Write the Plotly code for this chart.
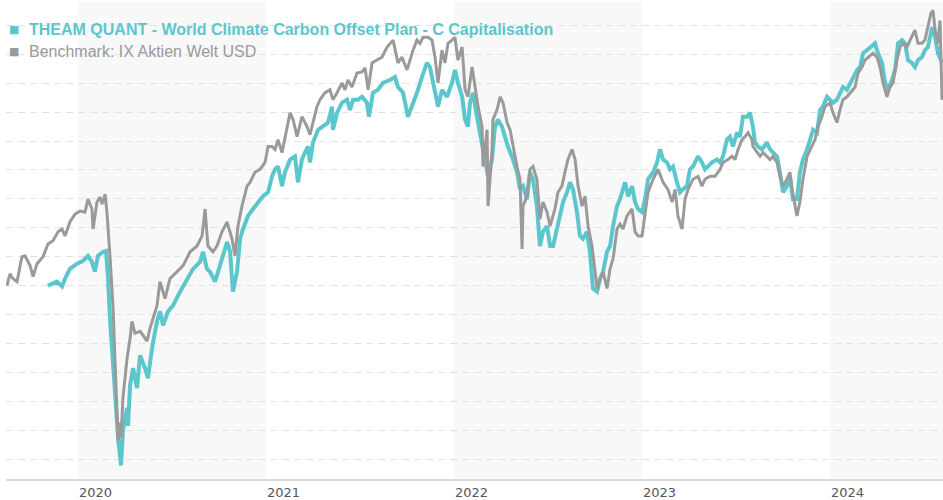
import plotly.graph_objects as go

# Time in decimal years, values rebased (arbitrary index units, no y labels shown)
bench_t = [2019.622, 2019.638, 2019.654, 2019.676, 2019.692, 2019.702, 2019.718, 2019.745, 2019.761, 2019.782,
           2019.814, 2019.840, 2019.867, 2019.894, 2019.915, 2019.931, 2019.957, 2019.984, 2020.011, 2020.037,
           2020.053, 2020.074, 2020.080, 2020.101, 2020.117, 2020.128, 2020.144, 2020.154, 2020.170, 2020.186,
           2020.197, 2020.207, 2020.213, 2020.223, 2020.229, 2020.239, 2020.250, 2020.261, 2020.277, 2020.287,
           2020.303, 2020.330, 2020.346, 2020.367, 2020.383, 2020.399, 2020.420, 2020.436, 2020.463, 2020.489,
           2020.527, 2020.559, 2020.596, 2020.633, 2020.660, 2020.676, 2020.691, 2020.718, 2020.739, 2020.766,
           2020.793, 2020.819, 2020.835, 2020.851, 2020.872, 2020.899, 2020.915, 2020.941, 2020.968, 2020.995,
           2021.011, 2021.032, 2021.048, 2021.064, 2021.085, 2021.112, 2021.128, 2021.144, 2021.165, 2021.191,
           2021.218, 2021.234, 2021.250, 2021.271, 2021.287, 2021.314, 2021.340, 2021.356, 2021.378, 2021.404,
           2021.420, 2021.436, 2021.457, 2021.484, 2021.511, 2021.527, 2021.543, 2021.564, 2021.590, 2021.617,
           2021.644, 2021.660, 2021.676, 2021.691, 2021.702, 2021.723, 2021.750, 2021.766, 2021.782, 2021.803,
           2021.819, 2021.835, 2021.862, 2021.883, 2021.899, 2021.915, 2021.936, 2021.952, 2021.968, 2021.989,
           2022.005, 2022.021, 2022.043, 2022.059, 2022.074, 2022.096, 2022.112, 2022.128, 2022.149, 2022.154,
           2022.176, 2022.181, 2022.202, 2022.207, 2022.229, 2022.245, 2022.261, 2022.282, 2022.298, 2022.314,
           2022.335, 2022.351, 2022.362, 2022.367, 2022.388, 2022.404, 2022.420, 2022.441, 2022.457, 2022.473,
           2022.495, 2022.511, 2022.537, 2022.553, 2022.574, 2022.590, 2022.606, 2022.628, 2022.644, 2022.660,
           2022.681, 2022.697, 2022.713, 2022.734, 2022.750, 2022.761, 2022.777, 2022.793, 2022.814, 2022.830,
           2022.846, 2022.867, 2022.883, 2022.899, 2022.920, 2022.947, 2022.963, 2022.979, 2023.000, 2023.016,
           2023.032, 2023.059, 2023.085, 2023.112, 2023.138, 2023.160, 2023.176, 2023.191, 2023.213, 2023.229,
           2023.245, 2023.271, 2023.298, 2023.319, 2023.335, 2023.362, 2023.388, 2023.415, 2023.431, 2023.457,
           2023.479, 2023.495, 2023.511, 2023.532, 2023.548, 2023.564, 2023.585, 2023.590, 2023.612, 2023.628,
           2023.644, 2023.665, 2023.681, 2023.697, 2023.718, 2023.734, 2023.750, 2023.771, 2023.787, 2023.798,
           2023.814, 2023.824, 2023.840, 2023.856, 2023.878, 2023.894, 2023.920, 2023.936, 2023.957, 2023.973,
           2024.000, 2024.016, 2024.037, 2024.053, 2024.069, 2024.090, 2024.106, 2024.133, 2024.149, 2024.170,
           2024.186, 2024.202, 2024.229, 2024.250, 2024.266, 2024.282, 2024.303, 2024.319, 2024.335, 2024.356,
           2024.372, 2024.388, 2024.410, 2024.426, 2024.452, 2024.468, 2024.489, 2024.505, 2024.521, 2024.537,
           2024.548, 2024.559, 2024.574, 2024.585, 2024.596]
bench_v = [100.0, 104.1, 102.4, 101.4, 106.9, 110.0, 110.3, 106.9, 103.1, 107.6,
           110.0, 114.4, 115.5, 118.6, 119.6, 117.2, 122.0, 124.7, 125.8, 125.4,
           129.9, 126.5, 119.6, 128.9, 130.6, 128.2, 131.6, 125.4, 110.3, 93.1,
           73.9, 56.7, 46.4, 52.6, 47.4, 61.2, 68.0, 74.9, 81.8, 87.6,
           83.5, 84.2, 82.8, 80.8, 85.2, 88.7, 93.1, 101.4, 95.5, 102.4,
           104.8, 106.9, 111.7, 113.7, 117.2, 126.5, 113.7, 111.7, 113.7, 118.6,
           122.0, 116.2, 110.3, 120.6, 127.5, 134.4, 135.7, 139.2, 140.2, 142.6,
           148.1, 148.1, 147.1, 150.5, 146.0, 155.0, 159.8, 157.4, 151.5, 158.4,
           155.0, 152.2, 156.4, 161.9, 164.3, 166.7, 167.7, 164.3, 166.7, 170.1,
           167.7, 171.1, 168.7, 173.5, 173.9, 175.3, 167.7, 177.0, 178.0, 179.0,
           182.5, 183.8, 184.9, 180.4, 177.0, 179.0, 174.6, 178.0, 181.4, 184.9,
           183.8, 185.9, 185.9, 184.9, 179.0, 170.1, 181.4, 177.0, 183.8, 184.9,
           185.9, 178.0, 182.5, 167.7, 165.3, 175.6, 168.7, 161.9, 155.0, 141.2,
           153.9, 127.5, 146.0, 157.4, 160.8, 165.3, 163.2, 156.4, 153.9, 148.1,
           141.2, 136.8, 112.7, 127.5, 130.9, 140.2, 141.2, 136.8, 123.0, 128.9,
           125.4, 120.6, 126.5, 132.3, 134.4, 139.2, 143.6, 147.1, 143.6, 134.4,
           127.5, 130.9, 120.6, 113.7, 105.8, 99.0, 102.4, 104.8, 99.0, 105.8,
           109.3, 119.6, 121.3, 119.6, 124.1, 126.5, 118.6, 117.2, 117.2, 124.1,
           132.3, 136.8, 140.2, 135.7, 133.3, 128.9, 133.3, 124.1, 119.6, 129.9,
           133.3, 136.8, 137.8, 134.4, 136.8, 137.8, 137.8, 140.2, 142.6, 143.6,
           144.7, 143.6, 147.1, 150.5, 151.5, 152.9, 150.5, 148.1, 146.0, 144.7,
           146.0, 144.7, 143.6, 144.7, 142.6, 137.8, 134.4, 136.8, 139.2, 133.3,
           127.5, 124.1, 128.9, 136.8, 144.7, 147.1, 150.5, 155.0, 158.4, 161.9,
           163.2, 159.8, 156.4, 160.8, 164.3, 165.3, 166.7, 168.7, 173.5, 175.6,
           178.0, 179.0, 180.4, 179.0, 175.6, 170.1, 165.3, 168.7, 170.1, 178.0,
           182.5, 183.8, 182.5, 184.9, 188.3, 183.8, 183.8, 184.9, 189.3, 194.2,
           195.2, 188.3, 183.8, 191.7, 164.3]

fund_t = [2019.840, 2019.888, 2019.915, 2019.931, 2019.957, 2019.995, 2020.027, 2020.053, 2020.074, 2020.090,
          2020.106, 2020.133, 2020.149, 2020.160, 2020.170, 2020.186, 2020.197, 2020.213, 2020.229, 2020.239,
          2020.261, 2020.266, 2020.277, 2020.293, 2020.314, 2020.330, 2020.356, 2020.372, 2020.394, 2020.410,
          2020.420, 2020.436, 2020.452, 2020.479, 2020.505, 2020.543, 2020.580, 2020.612, 2020.649, 2020.665,
          2020.686, 2020.702, 2020.729, 2020.745, 2020.766, 2020.793, 2020.809, 2020.824, 2020.846, 2020.862,
          2020.878, 2020.904, 2020.931, 2020.957, 2020.984, 2021.011, 2021.032, 2021.048, 2021.064, 2021.085,
          2021.101, 2021.128, 2021.154, 2021.170, 2021.191, 2021.207, 2021.223, 2021.234, 2021.250, 2021.277,
          2021.303, 2021.330, 2021.351, 2021.356, 2021.378, 2021.404, 2021.431, 2021.447, 2021.463, 2021.489,
          2021.511, 2021.537, 2021.548, 2021.569, 2021.596, 2021.622, 2021.660, 2021.686, 2021.702, 2021.729,
          2021.755, 2021.777, 2021.803, 2021.830, 2021.856, 2021.872, 2021.888, 2021.915, 2021.936, 2021.963,
          2021.989, 2022.005, 2022.021, 2022.043, 2022.059, 2022.074, 2022.085, 2022.101, 2022.122, 2022.138,
          2022.154, 2022.181, 2022.202, 2022.218, 2022.234, 2022.255, 2022.271, 2022.287, 2022.314, 2022.335,
          2022.351, 2022.367, 2022.388, 2022.404, 2022.420, 2022.441, 2022.457, 2022.473, 2022.495, 2022.511,
          2022.527, 2022.548, 2022.564, 2022.580, 2022.601, 2022.617, 2022.633, 2022.654, 2022.670, 2022.686,
          2022.707, 2022.723, 2022.739, 2022.761, 2022.777, 2022.793, 2022.814, 2022.830, 2022.846, 2022.867,
          2022.883, 2022.910, 2022.926, 2022.947, 2022.963, 2022.979, 2023.000, 2023.016, 2023.032, 2023.059,
          2023.080, 2023.096, 2023.112, 2023.133, 2023.149, 2023.165, 2023.186, 2023.202, 2023.218, 2023.239,
          2023.255, 2023.271, 2023.298, 2023.319, 2023.335, 2023.351, 2023.372, 2023.399, 2023.415, 2023.431,
          2023.452, 2023.468, 2023.484, 2023.505, 2023.521, 2023.537, 2023.559, 2023.574, 2023.590, 2023.601,
          2023.617, 2023.638, 2023.665, 2023.681, 2023.697, 2023.718, 2023.734, 2023.750, 2023.771, 2023.787,
          2023.803, 2023.824, 2023.840, 2023.856, 2023.878, 2023.894, 2023.910, 2023.931, 2023.947, 2023.963,
          2023.984, 2024.000, 2024.016, 2024.037, 2024.053, 2024.069, 2024.090, 2024.117, 2024.144, 2024.160,
          2024.176, 2024.197, 2024.213, 2024.239, 2024.255, 2024.277, 2024.293, 2024.309, 2024.330, 2024.346,
          2024.362, 2024.383, 2024.399, 2024.415, 2024.436, 2024.452, 2024.468, 2024.489, 2024.505, 2024.521,
          2024.543, 2024.559, 2024.574, 2024.596]
fund_v = [100.0, 101.4, 99.7, 102.4, 105.8, 107.6, 108.6, 110.3, 108.2, 104.8,
          110.3, 111.7, 112.0, 102.4, 88.7, 72.5, 64.6, 47.4, 37.8, 49.8,
          57.7, 51.5, 65.6, 71.5, 64.6, 75.9, 71.5, 68.0, 78.4, 84.2,
          87.6, 91.1, 86.3, 91.1, 93.1, 97.9, 102.4, 105.8, 108.2, 111.7,
          105.8, 104.8, 101.4, 104.8, 110.3, 115.1, 111.7, 97.9, 104.8, 116.2,
          119.6, 124.1, 126.5, 128.9, 130.9, 132.3, 137.8, 140.2, 141.2, 134.4,
          139.2, 143.6, 144.7, 135.7, 143.6, 146.0, 148.1, 142.6, 149.5, 153.9,
          155.0, 156.4, 161.9, 153.9, 159.8, 163.2, 164.3, 160.8, 164.3, 164.3,
          165.3, 163.2, 158.4, 166.7, 167.7, 170.1, 171.1, 172.2, 168.7, 166.7,
          158.4, 161.9, 166.7, 172.2, 177.0, 175.6, 170.1, 161.9, 167.7, 165.3,
          170.1, 174.6, 170.1, 165.3, 157.4, 155.0, 163.2, 166.7, 158.4, 152.9,
          148.1, 137.8, 143.6, 155.0, 157.4, 155.0, 151.5, 148.1, 143.6, 139.2,
          133.3, 134.4, 129.9, 139.2, 136.8, 127.5, 113.7, 118.6, 120.6, 113.7,
          113.7, 119.6, 125.4, 128.9, 132.3, 135.7, 133.3, 125.4, 117.2, 116.2,
          118.6, 111.7, 99.0, 97.9, 102.4, 104.8, 111.7, 113.7, 120.6, 127.5,
          129.9, 135.7, 130.9, 134.4, 128.9, 126.5, 125.4, 129.9, 136.8, 139.2,
          142.6, 147.1, 143.6, 142.6, 140.2, 141.2, 135.7, 132.3, 133.3, 134.4,
          140.2, 141.2, 144.7, 142.6, 140.2, 141.2, 142.6, 143.6, 142.6, 144.7,
          150.5, 151.5, 148.1, 152.9, 151.5, 158.4, 158.4, 159.8, 155.0, 149.5,
          148.1, 147.1, 149.5, 147.1, 146.0, 144.7, 139.2, 132.3, 134.4, 137.8,
          129.9, 129.9, 139.2, 143.6, 147.1, 150.5, 153.9, 152.9, 160.8, 161.9,
          165.3, 164.3, 163.2, 164.3, 166.7, 168.7, 167.7, 171.1, 174.6, 175.6,
          180.4, 181.4, 182.5, 183.8, 180.4, 177.0, 170.1, 167.7, 171.1, 174.6,
          183.8, 184.9, 183.8, 178.0, 177.0, 175.6, 178.0, 179.0, 181.4, 182.5,
          189.3, 185.9, 180.4, 177.0]

years = [2020, 2021, 2022, 2023, 2024]
year_labels = ["2020", "2021", "2022", "2023", "2024"]
shaded_years = [2020, 2022, 2024]

fund_name = "THEAM QUANT - World Climate Carbon Offset Plan - C Capitalisation"
bench_name = "Benchmark: IX Aktien Welt USD"

TEAL = "#5cc6cd"
GREY = "#9a9a9a"
X_RANGE = [2019.617, 2024.601]
Y_RANGE = [33.13, 198.08]

fig = go.Figure()
fig.add_trace(go.Scatter(x=fund_t, y=fund_v, mode="lines", name=fund_name,
                         line=dict(color=TEAL, width=4), showlegend=False, hoverinfo="skip"))
fig.add_trace(go.Scatter(x=bench_t, y=bench_v, mode="lines", name=bench_name,
                         line=dict(color=GREY, width=3), showlegend=False, hoverinfo="skip"))

for yr in shaded_years:
    fig.add_shape(type="rect", xref="x", yref="paper", x0=yr, x1=min(yr + 1, X_RANGE[1]),
                  y0=0, y1=1, fillcolor="#f8f8f8", line_width=0, layer="below")

FONT = "Liberation Sans, Arial, sans-serif"
# legend (custom, square markers)
fig.add_annotation(xref="paper", yref="paper", x=0.0085, y=0.9415, xanchor="center", yanchor="middle",
                   text="■", showarrow=False, font=dict(family="DejaVu Sans", size=11, color=TEAL))
fig.add_annotation(xref="paper", yref="paper", x=0.0224, y=0.9415, xanchor="left", yanchor="middle",
                   text="<b>" + fund_name + "</b>", showarrow=False,
                   font=dict(family=FONT, size=16, color=TEAL))
fig.add_annotation(xref="paper", yref="paper", x=0.0085, y=0.8956, xanchor="center", yanchor="middle",
                   text="■", showarrow=False, font=dict(family="DejaVu Sans", size=11, color=GREY))
fig.add_annotation(xref="paper", yref="paper", x=0.0224, y=0.8956, xanchor="left", yanchor="middle",
                   text=bench_name, showarrow=False,
                   font=dict(family=FONT, size=16, color=GREY))

fig.update_layout(
    width=943, height=500,
    margin=dict(l=6, r=0, t=2, b=19),
    paper_bgcolor="white", plot_bgcolor="white",
    font=dict(family=FONT),
    showlegend=False,
    xaxis=dict(range=X_RANGE, tickmode="array", tickvals=years, ticktext=year_labels,
               showgrid=False, zeroline=False, showline=True, linecolor="#dcdcdc", linewidth=2,
               ticks="", ticklabelposition="outside right",
               tickfont=dict(family="DejaVu Sans", size=13, color="#555555")),
    yaxis=dict(range=Y_RANGE, dtick=10, tick0=0, showticklabels=False, zeroline=False,
               showgrid=True, gridcolor="#e2e2e2", gridwidth=1, griddash="7px,5px", showline=False),
)

fig.write_html("out.html", config={"displayModeBar": False, "staticPlot": True},
               post_script="document.body.style.margin='0';document.body.style.padding='0';")
